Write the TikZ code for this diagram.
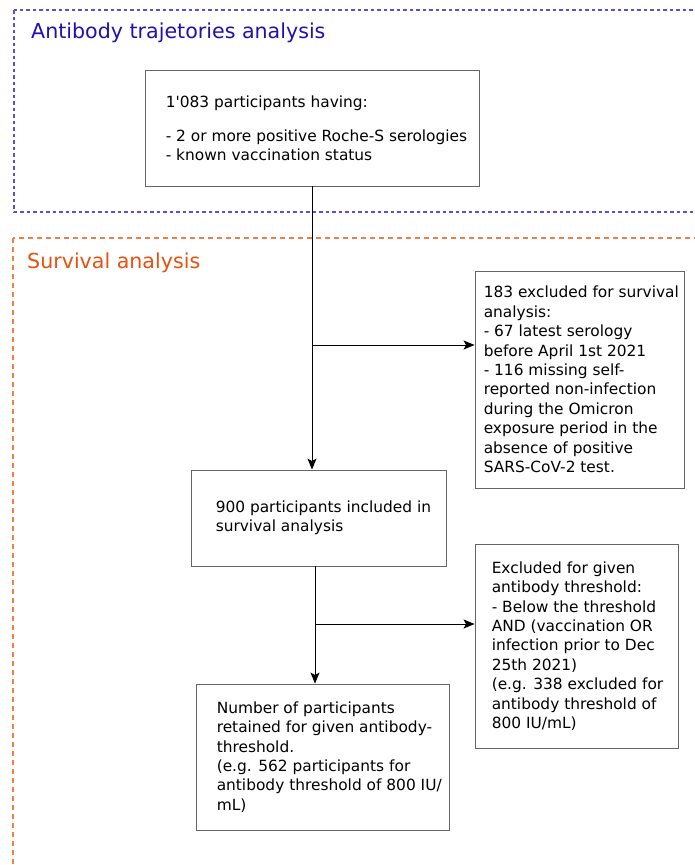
\documentclass[tikz,border=0pt]{standalone}
\usepackage{fontspec}
\setmainfont{DejaVu Sans}
\usetikzlibrary{arrows.meta}
\definecolor{blueline}{HTML}{5A4FD8}
\definecolor{bluetitle}{HTML}{2010B0}
\definecolor{orangeline}{HTML}{F08048}
\definecolor{orangetitle}{HTML}{E8500F}
\definecolor{boxline}{HTML}{666666}
\newcommand{\straightquote}{\XeTeXglyph\XeTeXglyphindex"quotesingle"\relax}
\begin{document}
\begin{tikzpicture}[x=1pt,y=-1pt,
  box/.style={draw=boxline, line width=0.9pt, minimum width=#1, inner sep=0pt},
  txt/.style={anchor=west, align=left, inner sep=0pt, font=\fontsize{15.4}{19.4}\selectfont},
  conn/.style={draw=black, line width=0.9pt},
  arr/.style={conn, -{Stealth[length=11pt,width=9pt,inset=2.5pt]}},
  title/.style={anchor=west, inner sep=0pt, font=\fontsize{20.6}{24}\selectfont}]
\clip (0,0) rectangle (695,865);
% group frames
\draw[blueline, line width=1.2pt, dash pattern=on 3.5pt off 3pt] (14,10) rectangle (720,212);
\draw[orangeline, line width=1.2pt, dash pattern=on 5pt off 4pt] (13,238) rectangle (720,900);
\node[title, text=bluetitle] (tt1) at (31,33) {Antibody trajetories analysis};
\node[title, text=orangetitle] (tt2) at (27,263) {Survival analysis};
% boxes
\node[box=334pt, minimum height=116pt] (b1) at (312,128) {};
\node[txt] (t1) at ([xshift=21pt]b1.west) {1\straightquote083 participants having:\\[14.6pt]- 2 or more positive Roche-S serologies\\- known vaccination status};
\node[box=209pt, minimum height=217pt] (b2) at (579.5,379.5) {};
\node[txt] (t2) at ([xshift=9pt]b2.west) {183 excluded for survival\\analysis:\\- 67 latest serology\\before April 1st 2021\\- 116 missing self-\\reported non-infection\\during the Omicron\\exposure period in the\\absence of positive\\SARS-CoV-2 test.};
\node[box=255pt, minimum height=96pt] (b3) at (318.5,518) {};
\node[txt] (t3) at ([xshift=25pt]b3.west) {900 participants included in\\survival analysis};
\node[box=203pt, minimum height=204pt] (b4) at (576.5,646) {};
\node[txt] (t4) at ([xshift=17pt]b4.west) {Excluded for given\\antibody threshold:\\- Below the threshold\\AND (vaccination OR\\infection prior to Dec\\25th 2021)\\(e.g. 338 excluded for\\antibody threshold of\\800 IU/mL)};
\node[box=253pt, minimum height=146pt] (b5) at (322.5,757) {};
\node[txt] (t5) at ([xshift=21pt]b5.west) {Number of participants\\retained for given antibody-\\threshold.\\(e.g. 562 participants for\\antibody threshold of 800 IU/\\mL)};
% connectors
\coordinate (j1) at (312,345);
\coordinate (j2) at (315,624);
\draw[conn] (b1.south) -- (j1);
\draw[arr] (j1) -- (j1 |- b3.north);
\draw[arr] (j1) -- (j1 -| b2.west);
\draw[conn] (j2 |- b3.south) -- (j2);
\draw[arr] (j2) -- (j2 |- b5.north);
\draw[arr] (j2) -- (j2 -| b4.west);
\end{tikzpicture}
\end{document}
